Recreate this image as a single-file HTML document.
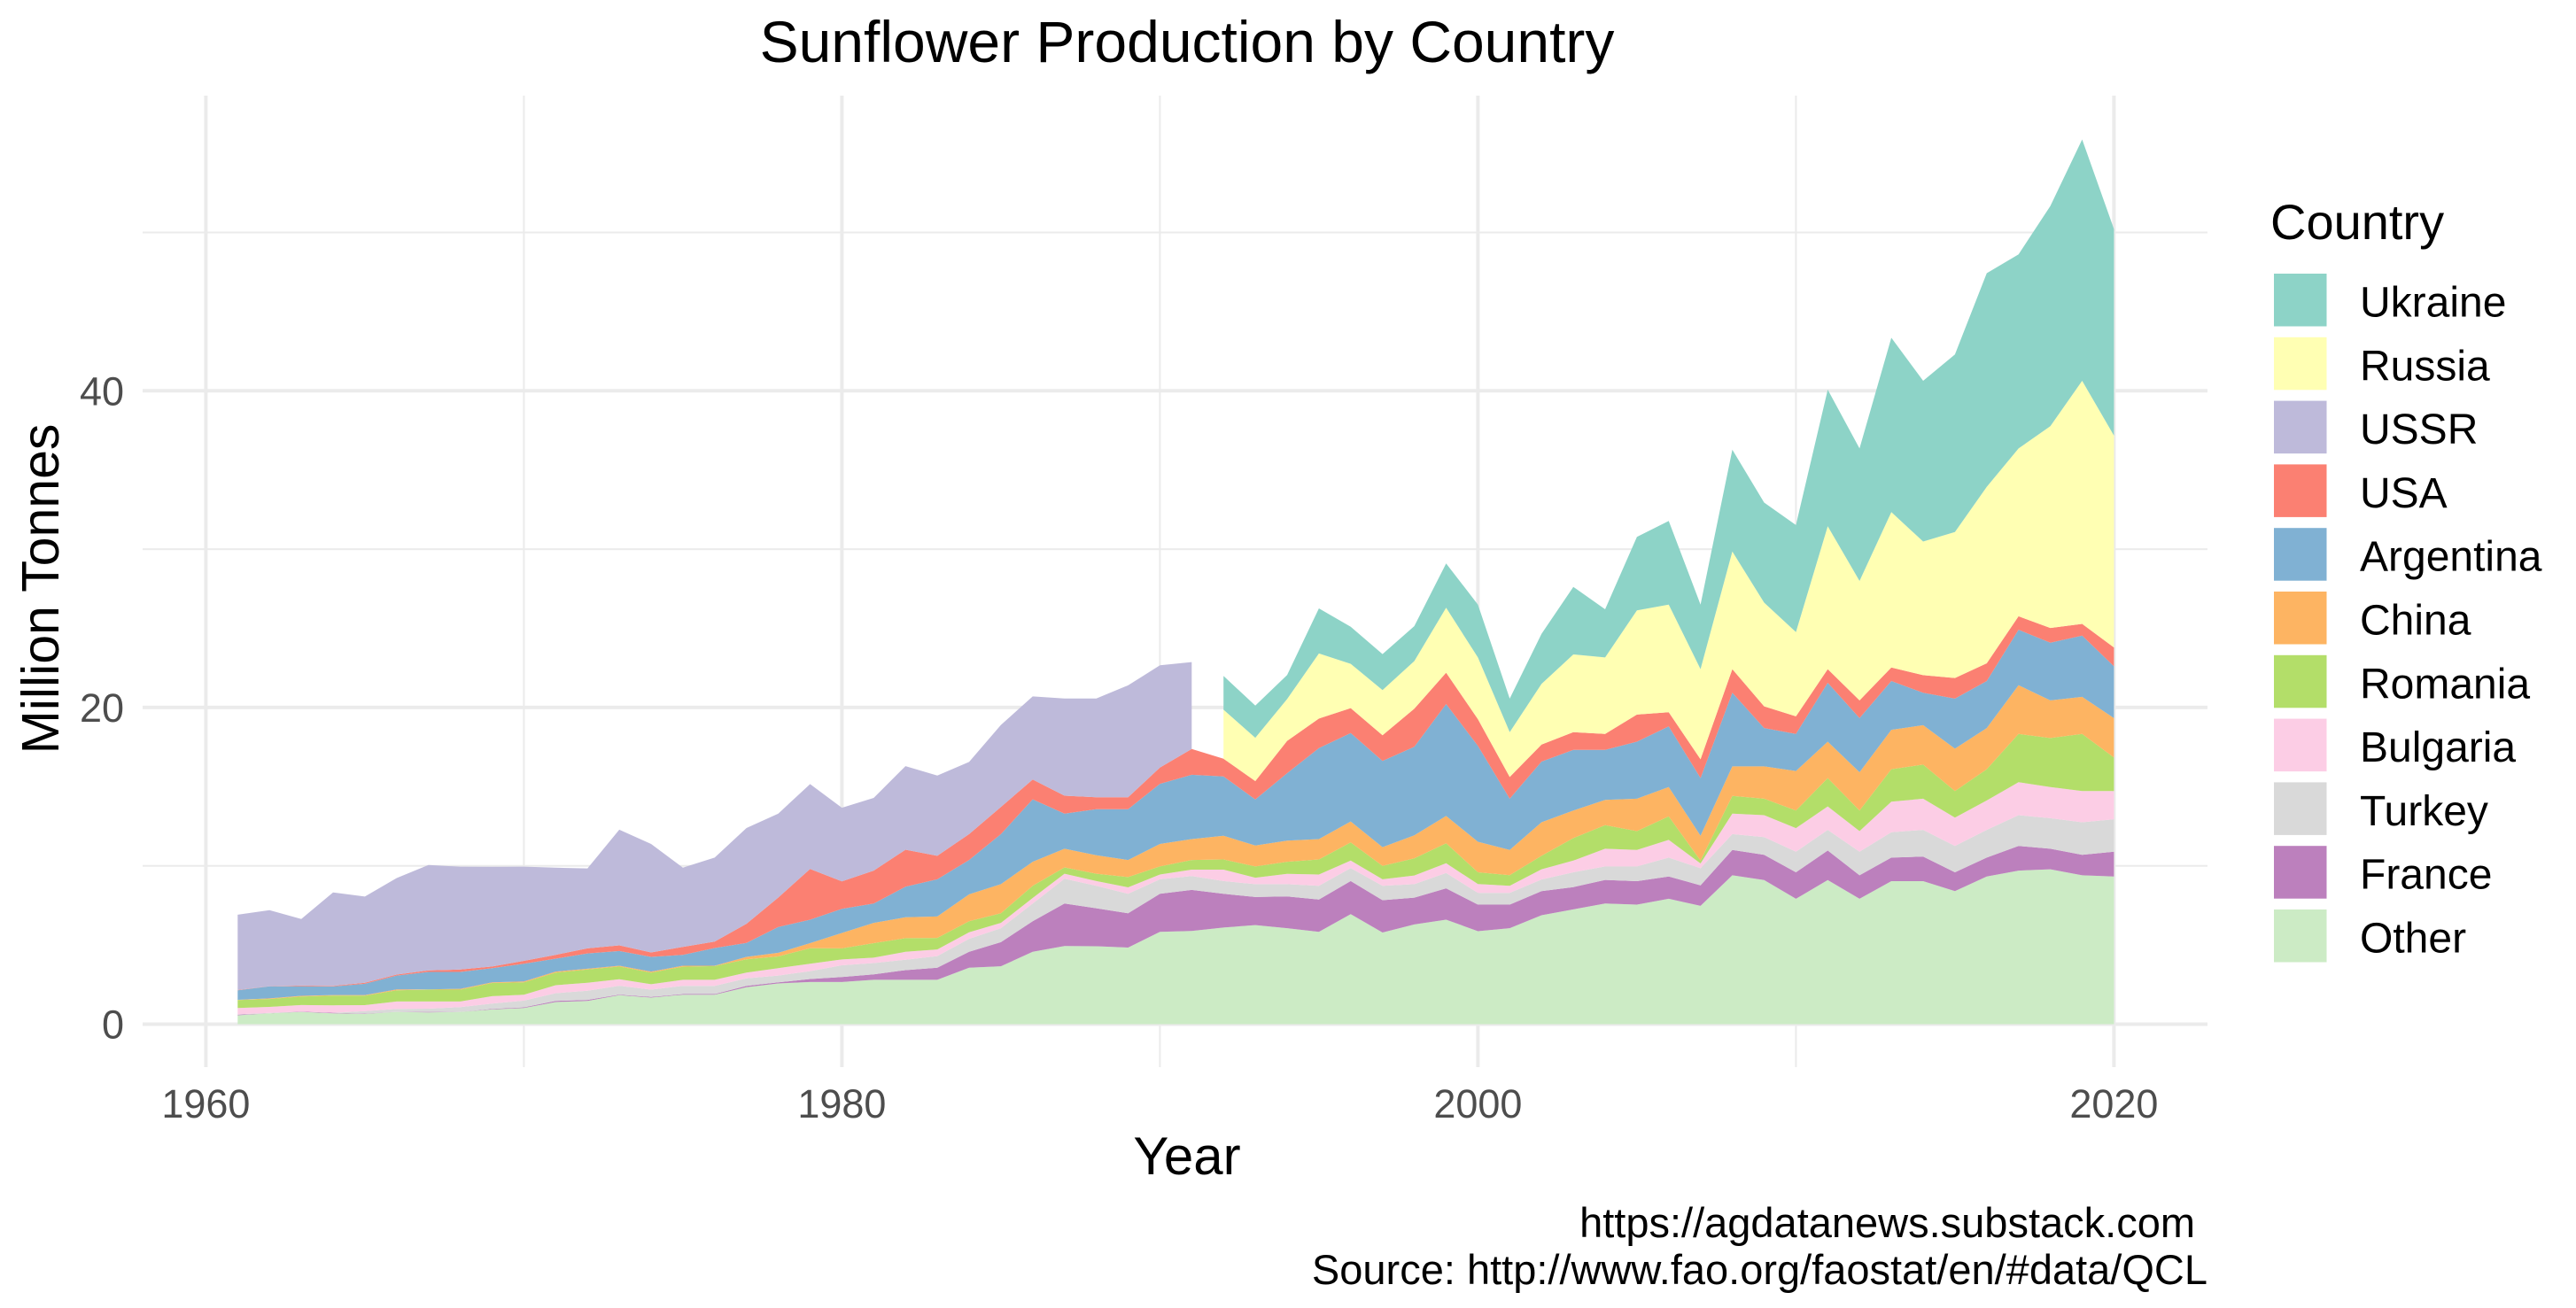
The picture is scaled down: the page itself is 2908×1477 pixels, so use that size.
<!DOCTYPE html>
<html><head><meta charset="utf-8"><style>
html,body{margin:0;padding:0;background:#fff;}
svg{display:block;}
text{font-family:"Liberation Sans",Arial,sans-serif;}
</style></head><body>
<svg id="chart" width="2908" height="1477" viewBox="0 0 2908 1477" xmlns="http://www.w3.org/2000/svg">
<rect width="2908" height="1477" fill="#fff"/>
<g id="grid"></g>
<g id="areas"></g>
<g id="axes"></g>
<text x="1340" y="70" font-size="66" text-anchor="middle" fill="#000">Sunflower Production by Country</text>
<text x="1340" y="1326" font-size="60" text-anchor="middle" fill="#000">Year</text>
<text transform="translate(66,665) rotate(-90)" font-size="59" text-anchor="middle" fill="#000">Million Tonnes</text>
<text x="2478" y="1397" font-size="47" text-anchor="end" fill="#000">https://agdatanews.substack.com</text>
<text x="2492" y="1450" font-size="47" text-anchor="end" fill="#000">Source: http://www.fao.org/faostat/en/#data/QCL</text>
<g id="legend"></g>
</svg>
<script>
const NS="http://www.w3.org/2000/svg";
const years=[];for(let y=1961;y<=2020;y++)years.push(y);
const seriesNames=["Other","France","Turkey","Bulgaria","Romania","China","Argentina","USA","USSR","Russia","Ukraine"];
const legendOrder=["Ukraine","Russia","USSR","USA","Argentina","China","Romania","Bulgaria","Turkey","France","Other"];
const xTicks=[1960,1980,2000,2020];
const xMinor=[1970,1990,2010];
const yTicks=[0,20,40];
const yMinor=[10,30,50];
const other=[.56,.69,.78,.69,.65,.78,.74,.78,.93,1.02,1.4,1.47,1.83,1.68,1.86,1.86,2.33,2.57,2.66,2.66,2.8,2.8,2.8,3.56,3.66,4.57,4.94,4.92,4.84,5.83,5.89,6.1,6.26,6.06,5.83,6.95,5.79,6.3,6.6,5.87,6.06,6.88,7.25,7.62,7.55,7.92,7.47,9.4,9.1,7.92,9.1,7.92,9.03,9.03,8.4,9.33,9.7,9.78,9.4,9.33];
const france=[.04,0,.02,.03,.02,0,.04,0,.04,.04,.07,.06,.04,.04,.04,.04,.09,.07,.19,.32,.35,.61,.76,1.01,1.52,1.93,2.68,2.4,2.16,2.4,2.59,2.13,1.77,2.01,2.04,2.09,2.04,1.69,1.98,1.68,1.49,1.52,1.41,1.49,1.48,1.41,1.3,1.6,1.6,1.67,1.87,1.48,1.49,1.56,1.19,1.19,1.56,1.3,1.3,1.56];
const turkey=[.02,.02,0,0,.15,.19,.2,.3,.33,.43,.49,.58,.56,.46,.52,.52,.47,.43,.5,.74,.71,.66,.74,.82,.88,1.12,1.57,1.42,1.23,.92,.87,.81,.81,.77,.87,.82,.91,.85,.97,.74,.74,.74,.93,.85,.93,1.19,1.08,1.0,1.12,1.3,1.3,1.49,1.6,1.68,1.67,1.75,1.94,1.93,2.05,2.05];
const bulgaria=[.4,.38,.41,.47,.38,.46,.45,.35,.47,.37,.5,.5,.41,.34,.38,.38,.37,.47,.47,.37,.34,.5,.42,.41,.34,.35,.31,.3,.41,.3,.41,.72,.41,.65,.71,.47,.41,.55,.61,.56,.45,.64,.74,1.12,1.04,1.12,.3,1.3,1.38,1.49,1.48,1.3,1.93,1.97,1.79,1.86,2.08,1.97,1.97,1.78];
const romania=[.5,.5,.54,.61,.6,.71,.75,.75,.83,.78,.8,.84,.8,.74,.83,.87,.84,.74,.98,.7,.92,.86,.73,.7,.6,.77,.4,.46,.65,.51,.61,.64,.71,.77,.95,1.15,.85,1.08,1.26,.74,.67,.85,1.42,1.49,1.19,1.48,.18,1.12,1.04,1.11,1.79,1.3,2.05,2.15,1.67,1.97,3.05,3.09,3.61,2.12];
const china=[.02,.04,.04,.04,.04,.06,.02,.05,.04,.06,.06,.05,.05,.06,.06,.02,.15,.23,.32,.97,1.28,1.32,1.35,1.7,1.84,1.52,1.18,1.17,1.08,1.42,1.32,1.5,1.32,1.33,1.29,1.32,1.18,1.46,1.73,1.93,1.59,2.12,1.74,1.59,2.05,1.86,1.57,1.86,2.04,2.5,2.3,2.42,2.49,2.49,2.68,2.6,3.08,2.38,2.34,2.49];
const argentina=[.6,.76,.61,.54,.71,.87,1.1,1.07,.9,1.12,.82,.97,.93,.93,.69,1.12,.88,1.63,1.48,1.53,1.22,1.93,2.35,2.17,3.16,3.94,2.22,2.91,3.21,3.8,4.06,3.75,2.91,4.26,5.75,5.59,5.45,5.59,7.07,6.06,3.24,3.83,3.83,3.16,3.6,3.83,3.64,4.65,2.42,2.34,3.72,3.42,3.08,2.05,3.16,2.97,3.5,3.64,3.87,3.27];
const usa=[.02,.01,.04,.04,.06,.06,.1,.15,.1,.18,.24,.32,.36,.28,.5,.41,1.21,1.86,3.2,1.73,2.08,2.34,1.48,1.63,1.72,1.25,1.13,.75,.75,1.02,1.63,1.12,1.16,2.04,1.86,1.57,1.62,2.4,1.98,1.68,1.37,1.08,1.12,1.01,1.71,.89,1.19,1.49,1.37,1.11,.86,1.12,.86,1.11,1.3,1.12,.85,.93,.74,1.19];
const ussr=[4.75,4.8,4.2,5.9,5.45,6.1,6.65,6.5,6.3,5.95,5.5,5.05,7.3,6.85,5.0,5.3,6.05,5.3,5.36,4.65,4.59,5.28,5.07,4.56,5.18,5.25,6.14,6.24,7.07,6.46,5.49,null,null,null,null,null,null,null,null,null,null,null,null,null,null,null,null,null,null,null,null,null,null,null,null,null,null,null,null,null];
const russia=[null,null,null,null,null,null,null,null,null,null,null,null,null,null,null,null,null,null,null,null,null,null,null,null,null,null,null,null,null,null,null,3.09,2.74,2.64,4.11,2.8,2.85,3.01,4.1,3.9,2.83,3.83,4.91,4.83,6.58,6.8,5.69,7.43,6.55,5.32,9.03,7.54,9.81,8.44,9.22,11.15,10.6,12.75,15.35,13.38];
const ukraine=[null,null,null,null,null,null,null,null,null,null,null,null,null,null,null,null,null,null,null,null,null,null,null,null,null,null,null,null,null,null,null,2.13,2.03,1.52,2.85,2.34,2.27,2.21,2.8,3.34,2.12,3.16,4.27,3.04,4.65,5.28,4.08,6.43,6.32,6.76,8.62,8.37,11.01,10.15,11.22,13.49,12.26,13.9,15.24,13.05];
const seriesData=[other,france,turkey,bulgaria,romania,china,argentina,usa,ussr,russia,ukraine];
const colors={Ukraine:"#8DD3C7",Russia:"#FFFFB3",USSR:"#BEBADA",USA:"#FB8072",Argentina:"#80B1D3",China:"#FDB462",Romania:"#B3DE69",Bulgaria:"#FCCDE5",Turkey:"#D9D9D9",France:"#BC80BD",Other:"#CCEBC5"};

const X0=232.4,PXY=35.9,Y0=1156.5,PXV=17.88;
const PL=161,PR=2492,PT=108,PB=1205;
function xs(yr){return X0+(yr-1960)*PXY;}
function ys(v){return Y0-v*PXV;}
function el(tag,attrs,parent){const e=document.createElementNS(NS,tag);for(const k in attrs)e.setAttribute(k,attrs[k]);parent.appendChild(e);return e;}

const grid=document.getElementById('grid');
yMinor.forEach(v=>{const l=el('line',{x1:PL,x2:PR,y1:ys(v),y2:ys(v),stroke:'#ebebeb','stroke-width':2},grid);

});
xMinor.forEach(v=>{const l=el('line',{x1:xs(v),x2:xs(v),y1:PT,y2:PB,stroke:'#ebebeb','stroke-width':2},grid);

});
yTicks.forEach(v=>{const l=el('line',{x1:PL,x2:PR,y1:ys(v),y2:ys(v),stroke:'#ebebeb','stroke-width':4},grid);

});
xTicks.forEach(v=>{const l=el('line',{x1:xs(v),x2:xs(v),y1:PT,y2:PB,stroke:'#ebebeb','stroke-width':4},grid);

});

const n=years.length;
const cum=[];let base=new Array(n).fill(0);
seriesData.forEach((s,i)=>{const lo=base.slice();const hi=base.map((b,j)=>b+(s[j]==null?0:s[j]));cum.push({lo,hi});base=hi;});
const areas=document.getElementById('areas');
seriesNames.forEach((name,i)=>{
  const s=seriesData[i];
  let runs=[],cur=null;
  for(let j=0;j<n;j++){if(s[j]!=null){if(!cur){cur=[];runs.push(cur);}cur.push(j);}else cur=null;}
  runs.forEach(run=>{
    let pts=run.map(j=>xs(years[j]).toFixed(1)+','+ys(cum[i].hi[j]).toFixed(1));
    pts=pts.concat(run.slice().reverse().map(j=>xs(years[j]).toFixed(1)+','+ys(cum[i].lo[j]).toFixed(1)));
    const p=el('polygon',{points:pts.join(' '),fill:colors[name]},areas);
    
    
  });
});

const axes=document.getElementById('axes');
xTicks.forEach(v=>{const t=el('text',{x:xs(v),y:1262,'font-size':45,'text-anchor':'middle',fill:'#4d4d4d'},axes);t.textContent=v;

});
yTicks.forEach(v=>{const t=el('text',{x:140,y:ys(v)+16,'font-size':45,'text-anchor':'end',fill:'#4d4d4d'},axes);t.textContent=v;

});

const lg=document.getElementById('legend');
const lt=el('text',{x:2563,y:270,'font-size':56,fill:'#000'},lg);lt.textContent='Country';


legendOrder.forEach((name,k)=>{
  const y=309+k*71.8;
  const r=el('rect',{x:2567,y:y,width:59.5,height:59.5,fill:colors[name]},lg);
  
  
  const t=el('text',{x:2664,y:y+48.5,'font-size':48,fill:'#000'},lg);t.textContent=name;
  
  
});
</script>
</body></html>
